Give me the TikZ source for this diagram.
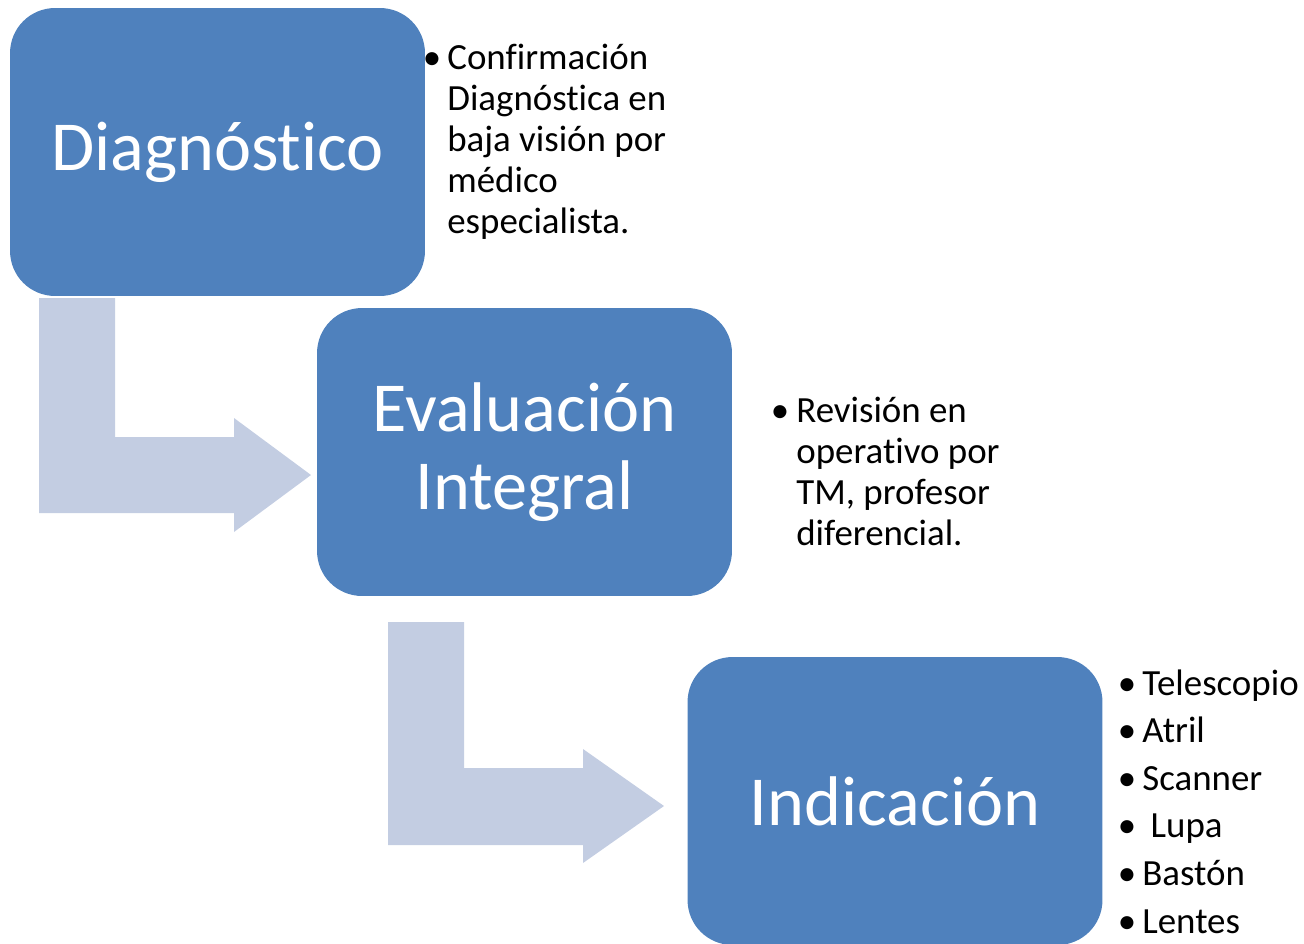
\documentclass[tikz,border=0pt]{standalone}
\usepackage{fontspec}
\setmainfont{Carlito}[Ligatures=NoCommon]
\usetikzlibrary{positioning}
\definecolor{stageblue}{RGB}{79,129,189}
\definecolor{arrowgray}{RGB}{195,205,226}

\begin{document}
\begin{tikzpicture}[
    x=0.02cm, y=-0.02cm,
    stage/.style={rectangle, rounded corners=0.9cm, fill=stageblue, text=white,
                  minimum width=8.3cm, minimum height=5.76cm, align=center,
                  inner sep=0pt, font=\fontsize{40}{44}\selectfont},
    note/.style={anchor=base west, inner sep=0pt, align=left,
                 font=\fontsize{21}{23.2}\selectfont},
    dot/.style={anchor=base, inner sep=0pt, font=\fontsize{21}{23.2}\selectfont},
    bentarrow/.style={fill=arrowgray}
]
    \useasboundingbox (0,0) rectangle (1304,943);
    \clip (0,0) rectangle (1304,943);

    % bent block arrows
    \fill[bentarrow] (39,298) -- (115,298) -- (115,437) -- (234,437) -- (234,418)
        -- (311,475) -- (234,532) -- (234,513) -- (39,513) -- cycle;
    \fill[bentarrow] (388,622) -- (464,622) -- (464,768) -- (583,768) -- (583,749)
        -- (664,806) -- (583,863) -- (583,845) -- (388,845) -- cycle;

    % stages
    \node[stage] (diag) at (217.5,152) {Diagnóstico};
    \node[stage] (eval) at (524.5,452) {Evaluación\\Integral};
    \node[stage] (indic) at (895,801) {Indicación};

    % notes (base anchor sits on the last line)
    \node[dot] (diagdot) at (432,69) {\textbullet};
    \node[note] (diagnote) at (447,233) {Confirmación\\Diagnóstica en\\baja visión por\\médico\\especialista.};
    \node[dot] (evaldot) at (780,422) {\textbullet};
    \node[note] (evalnote) at (796,545) {Revisión en\\operativo por\\TM, profesor\\diferencial.};

    \foreach \entry [count=\i] in {Telescopio, Atril, Scanner, {\ Lupa}, Bastón, Lentes} {
        \node[dot] (dot\i) at (1127,{695+47.6*(\i-1)}) {\textbullet};
        \node[note] (item\i) at (1142,{695+47.6*(\i-1)}) {\entry};
    }
\end{tikzpicture}
\end{document}
